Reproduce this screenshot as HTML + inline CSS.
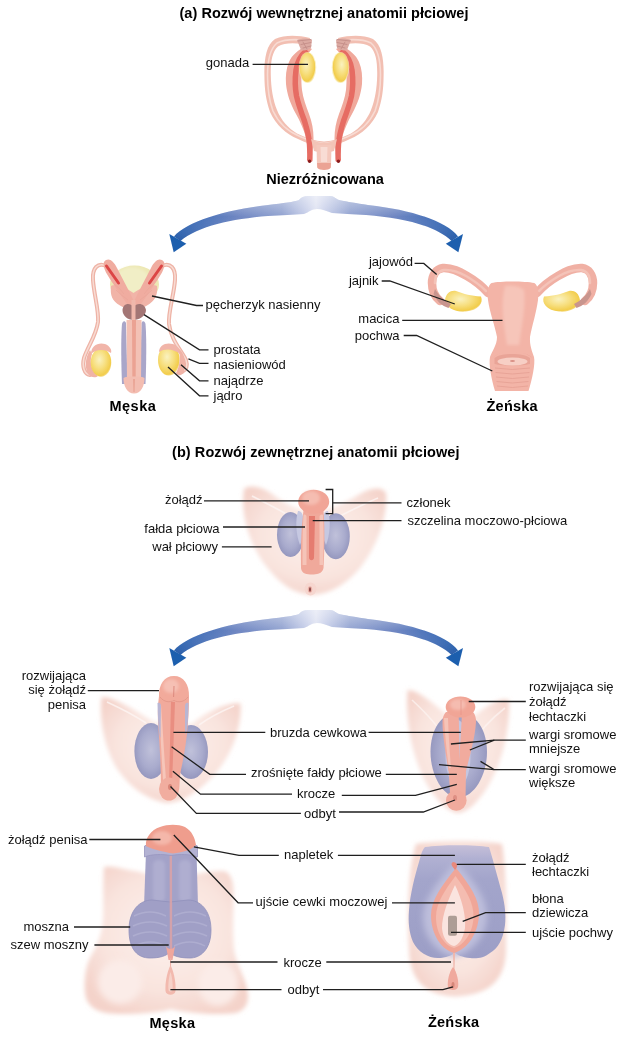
<!DOCTYPE html>
<html><head><meta charset="utf-8">
<style>
html,body{margin:0;padding:0;background:#fff;}
svg{display:block;}
text{font-family:"Liberation Sans",sans-serif;font-size:13px;fill:#111;}
.b{font-weight:bold;font-size:14.5px;fill:#000;}
.ln{stroke:#1f1f1f;stroke-width:1.3;fill:none;}
</style></head><body>
<svg width="627" height="1039" viewBox="0 0 627 1039">
<defs>
<filter id="soft" x="-20%" y="-20%" width="140%" height="140%"><feGaussianBlur stdDeviation="0.6"/></filter>
<filter id="soft2" x="-20%" y="-20%" width="140%" height="140%"><feGaussianBlur stdDeviation="1.5"/></filter>
<filter id="skinb" x="-20%" y="-20%" width="140%" height="140%"><feGaussianBlur stdDeviation="2.2"/></filter>
<filter id="soft3" x="-30%" y="-30%" width="160%" height="160%"><feGaussianBlur stdDeviation="3"/></filter>
<radialGradient id="gYel" cx="42%" cy="40%" r="62%"><stop offset="0" stop-color="#faf2c0"/><stop offset="0.5" stop-color="#f7df80"/><stop offset="0.9" stop-color="#f2cd4c"/><stop offset="1" stop-color="#f5dc8a"/></radialGradient>
<linearGradient id="gArr" x1="0" y1="0" x2="1" y2="0">
<stop offset="0" stop-color="#2862b0"/><stop offset="0.08" stop-color="#4570b8"/><stop offset="0.22" stop-color="#6e86c2"/><stop offset="0.38" stop-color="#91a2d0"/><stop offset="0.47" stop-color="#c9d0ea"/><stop offset="0.5" stop-color="#dde1f1"/><stop offset="0.53" stop-color="#c9d0ea"/><stop offset="0.62" stop-color="#91a2d0"/><stop offset="0.78" stop-color="#6e86c2"/><stop offset="0.92" stop-color="#4570b8"/><stop offset="1" stop-color="#2862b0"/></linearGradient>
<linearGradient id="gArrV" gradientUnits="userSpaceOnUse" x1="0" y1="196" x2="0" y2="242"><stop offset="0" stop-color="#fff" stop-opacity="0.45"/><stop offset="0.45" stop-color="#fff" stop-opacity="0"/><stop offset="1" stop-color="#103070" stop-opacity="0.15"/></linearGradient>
<radialGradient id="gPur" cx="50%" cy="48%" r="55%"><stop offset="0" stop-color="#c0c1da"/><stop offset="0.6" stop-color="#a9abcd"/><stop offset="1" stop-color="#9294bc"/></radialGradient>
<radialGradient id="gSkin" cx="50%" cy="45%" r="60%"><stop offset="0" stop-color="#fcf1ed"/><stop offset="0.65" stop-color="#f9e4de"/><stop offset="1" stop-color="#f4d3ca"/></radialGradient>
<linearGradient id="gPurV" x1="0" y1="0" x2="0" y2="1"><stop offset="0" stop-color="#c6bfd8"/><stop offset="0.12" stop-color="#b0b0d2"/><stop offset="0.3" stop-color="#a3a5cb"/><stop offset="1" stop-color="#9c9ec6"/></linearGradient>
<filter id="artblur" x="-5%" y="-5%" width="110%" height="110%"><feGaussianBlur stdDeviation="0.45"/></filter>
</defs>
<g id="art" filter="url(#artblur)">
<!-- undifferentiated internal -->
<g id="undiff">
 <g id="undL">
  <path d="M310 38 C298 35 285 34.5 275 39 C266 45 264 60 264.4 75 C264.5 90 266 100 270 112 C276 125 286 134 298 139 C306 143 314 145.5 324 146.5 L324 141.6 C315 141 306 138 297 133.5 C288 128 281 120 277 110 C273 100 271 88 270.8 75 C270.6 62 272 52 278 46.5 C285 42 298 43 309 45 Z" fill="#f2bfb2"/>
  <path d="M307 40.5 C296 39 285 39 277 43 C270 49 267.5 62 267.5 75 C267.5 90 269 100 273 111 C279 124 289 132 300 136.5 C308 140 316 142.5 324 143.5" fill="none" stroke="#f8dbd3" stroke-width="1.6"/>
  <path d="M306 46 C298 50 292 55 289 62 C286 69 285.5 76 286 84 C287 94 290 103 296 114 C300 121 304 130 306 138 C307.5 146 308 154 308 162 L311.5 162 C312 154 313.5 146 313.5 138 C313.5 130 312 122 309 114 C306 106 303 98 302 90 C301 80 301 70 304 62 C306 56 309 52 312 49 Z" fill="#f0a99c"/>
  <path d="M307 50 C301 55 297 62 296 70 C295 78 295 88 296.5 96 C298.5 105 301.5 113 304.5 121 C307 129 309 136 309.5 144 C310 152 310 157 309.7 161" fill="none" stroke="#e66c63" stroke-width="5.5" filter="url(#soft)"/>
  <path d="M297 40 C302 38 308 38 312 40 L311 48 C308 50 304 51 301 50 Z" fill="#dcaaa2"/><g stroke="#c48d88" stroke-width="0.9" fill="none" stroke-linecap="round"><path d="M298 41 L311 39.5"/><path d="M301 44.5 L311 42.5"/><path d="M303 48 L311 46"/><path d="M303 42 L307 49"/></g>
  <circle cx="309.6" cy="161.2" r="1.7" fill="#8a1b1b"/>
  <ellipse cx="307.5" cy="67.5" rx="8.8" ry="15.6" fill="#f8eaa8" opacity="0.7" filter="url(#soft)"/>
  <ellipse cx="307.5" cy="67.5" rx="7.8" ry="14.8" fill="url(#gYel)"/>
 </g>
 <use href="#undL" transform="translate(648 0) scale(-1 1)"/>
 <path d="M311 139 Q324 147 337 139 L334 151 Q324 154 314 151 Z" fill="#f3c4b7"/>
 <path d="M316.5 145 L331.5 145 L331 167 C330 170 318 170 317 167 Z" fill="#f4c8bc"/>
 <path d="M320.5 147 L327.5 147 L327 162 L321 162 Z" fill="#f8dcd4" filter="url(#soft)"/>
 <path d="M317 163 L331 163 L330.5 168 C329 170.5 319 170.5 317.5 168 Z" fill="#eba394"/>
</g>
<!-- male internal -->
<g id="maleInt">
 <ellipse cx="134.5" cy="284.5" rx="24.5" ry="19" fill="#ede8b4"/>
 <ellipse cx="132" cy="280" rx="17" ry="13" fill="#f1eec6" filter="url(#soft2)"/>
 <!-- vas deferens -->
 <path d="M106 266 C98 262 92 268 93 280 C94 295 99 310 98 322 C96 336 88 346 84 358 C82 366 84 374 90 375" fill="none" stroke="#eeb3a6" stroke-width="4" stroke-linecap="round"/>
 <path d="M106 266 C98 262 92 268 93 280 C94 295 99 310 98 322 C96 336 88 346 84 358 C82 366 84 374 90 375" fill="none" stroke="#f8dcd4" stroke-width="1.5" stroke-linecap="round"/>
 <path d="M162 266 C170 262 176 268 175 280 C174 295 168 312 169 324 C171 340 181 350 186 360 C188 366 186 370 182 372" fill="none" stroke="#eeb3a6" stroke-width="4" stroke-linecap="round"/>
 <path d="M162 266 C170 262 176 268 175 280 C174 295 168 312 169 324 C171 340 181 350 186 360 C188 366 186 370 182 372" fill="none" stroke="#f8dcd4" stroke-width="1.5" stroke-linecap="round"/>
 <!-- vesicles -->
 <path d="M111 286 C116 283 126 288 133.5 293 C141 288 151 283 157 286 C158 295 155 301 147 305.5 C141 309 136 310.5 133.5 310.5 C131 310.5 126 309 120 305.5 C112 301 110 295 111 286 Z" fill="#f1b4a8"/>
 <path d="M104 262 C108 257 113 260 117 268 C123 280 130 292 136 306 L131 310 C126 302 119 293 114 285 C108 276 102 268 104 262 Z" fill="#f0aca0"/>
 <path d="M164 262 C160 257 155 260 151 268 C145 280 138 292 132 306 L137 310 C142 302 149 293 154 285 C160 276 166 268 164 262 Z" fill="#f0aca0"/>
 <path d="M106.5 266 L118.5 283" stroke="#dc4545" stroke-width="3" stroke-linecap="round" filter="url(#soft)"/>
 <path d="M161.5 266 L149.5 283" stroke="#dc4545" stroke-width="3" stroke-linecap="round" filter="url(#soft)"/>
 <g stroke="#e9a69a" stroke-width="0.7" fill="none"><path d="M116 290 Q122 296 128 300"/><path d="M152 290 Q146 296 140 300"/><path d="M114 284 Q120 288 124 294"/><path d="M154 284 Q148 288 144 294"/></g>
 <!-- prostate -->
 <path d="M133.5 307 C130 302 123 303 122.5 310 C122.5 316 128 320 133.5 320 C139 320 146 316 146 310 C145 303 137 302 133.5 307 Z" fill="#a37675"/>
 <rect x="131.5" y="300" width="4" height="22" fill="#f0b8ac"/>
 <!-- penis -->
 <path d="M122 384 C121 360 121 335 122 324 C122.5 321 125 320 126 323 L127.5 384 Z" fill="#a9a6c9"/>
 <path d="M145.5 384 C146.5 360 146.5 335 145.5 324 C145 321 142.5 320 141.5 323 L140 384 Z" fill="#a9a6c9"/>
 <path d="M126.5 320 L141.5 320 L141 382 L127 382 Z" fill="#f3c1b5"/>
 <path d="M132 320 L136 320 L135.6 388 L132.4 388 Z" fill="#eba293"/>
 <path d="M123.5 378 C126 376 142 376 144.5 378 C144.5 386 141 393.5 134 393.5 C127 393.5 123.5 386 123.5 378 Z" fill="#f3bdb1"/>
 <path d="M133 379 L135 379 L134.6 392 L133.4 392 Z" fill="#eaa596"/>
 <!-- testes -->
 <path d="M90 350 C86 356 84 366 88 374 C91 378 96 378 98 376 C92 372 89 362 92 354 Z" fill="#f0b3a7"/>
 <ellipse cx="101" cy="362.5" rx="10.3" ry="14.2" fill="url(#gYel)"/>
 <path d="M91 354 C91 346 98 342 105 344 C110 346 112 350 111 353 C105 349 96 349 91 354 Z" fill="#f1b5a9"/>
 <ellipse cx="168.8" cy="360" rx="10.8" ry="15.5" fill="url(#gYel)"/>
 <path d="M159 352 C159 345 166 342 173 344 C178 346 181 350 180 354 C174 349 165 348 159 352 Z" fill="#f1b5a9"/>
 <path d="M178 348 C184 352 187 362 184 372 C182 376 178 376 176 373 C180 366 181 356 178 348 Z" fill="#f0b3a7"/>
</g>
<!-- female internal -->
<g id="femInt">
 <path d="M488 293 C482 286 474 280 467 276 C460 272 452 267.5 443 268 C436 269 432 275 432 283 C432 291 435 297 440 301" fill="none" stroke="#f0b0a4" stroke-width="8.5" stroke-linecap="round"/>
 <path d="M486 291 C480 285 473 280 466 276 C459 272 452 269.5 444 270 C438 271 435 276 435 283" fill="none" stroke="#f4c3b8" stroke-width="2.5" stroke-linecap="round" filter="url(#soft)"/>
 <path d="M537 293 C543 286 551 280 558 276 C565 272 573 267.5 582 268 C589 269 593 275 593 283 C593 291 590 297 585 301" fill="none" stroke="#f0b0a4" stroke-width="8.5" stroke-linecap="round"/>
 <path d="M539 291 C545 285 552 280 559 276 C566 272 573 269.5 581 270 C587 271 590 276 590 283" fill="none" stroke="#f4c3b8" stroke-width="2.5" stroke-linecap="round" filter="url(#soft)"/>
 <path d="M445 300 C446 293 451 290 456 291 C464 294 471 296 481 296.5 C484 303 478 310.5 466 311.5 C455 312.5 446 308 445 300 Z" fill="url(#gYel)"/>
 <path d="M580 300 C579 293 574 290 569 291 C561 294 554 296 544 296.5 C541 303 547 310.5 559 311.5 C570 312.5 579 308 580 300 Z" fill="url(#gYel)"/>
 <path d="M435 289 C439 296 445 301 451 304 L448.5 308 C442 306 436.5 301 433.5 294 Z" fill="#c9958e" filter="url(#soft)"/>
 <path d="M590 289 C586 296 580 301 574 304 L576.5 308 C583 306 588.5 301 591.5 294 Z" fill="#c9958e" filter="url(#soft)"/>
 <path d="M491.5 283 C500 281 525 281 534.3 283 C538 285 539 292 538 300 C536.5 312 532 326 530 337 C529.5 345 532 351 534 357 C535.5 364 532 380 528.5 391 L495 391 C491.5 380 488.5 364 490 357 C492 351 497 345 497 337 C495 326 489.5 312 488 300 C487 292 488 285 491.5 283 Z" fill="#f3b4a7"/>
 <path d="M505 286 C512 285 520 286 524 290 C526 305 522 325 519 345 L507 345 C504 325 500 305 505 286 Z" fill="#f6c5b9" filter="url(#soft2)"/>
 <path d="M493 358 C498 350 526 350 532 358 C530 354 520 352 512 352 C504 352 495 354 493 358 Z" fill="#e49a8d"/>
 <path d="M494.5 358 C500 352.5 524 352.5 530 358 L530 364 C522 366 502 366 494.5 364 Z" fill="#e9a497"/>
 <ellipse cx="512.5" cy="361.5" rx="15" ry="4" fill="#f7cfc5"/>
 <ellipse cx="512.5" cy="361" rx="2.5" ry="1" fill="#d99086"/>
 <g stroke="#e7a295" stroke-width="0.9" fill="none">
  <path d="M495 368 Q512 371 530 368"/><path d="M495.5 372.5 Q512 375.5 529.5 372.5"/><path d="M496 377 Q512 380 529 377"/><path d="M496.5 381.5 Q512 384.5 528.5 381.5"/><path d="M497 386 Q512 389 528 386"/>
 </g>
</g>

<!-- undiff external -->
<g id="undExt">
 <path d="M244 489 C250 484 262 487 272 494 C284 503 296 510 313 512 C332 510 346 502 360 494 C370 488 382 486 386 493 C388 515 378 545 360 568 C345 585 330 594 312 595 C294 594 280 584 266 566 C250 545 240 515 244 489 Z" fill="url(#gSkin)" filter="url(#skinb)"/>
 <path d="M252 496 C264 502 276 508 288 515" fill="none" stroke="#fdf5f3" stroke-width="1.8" opacity="0.8" filter="url(#soft)"/>
 <path d="M378 498 C366 503 354 509 340 516" fill="none" stroke="#fdf5f3" stroke-width="1.8" opacity="0.8" filter="url(#soft)"/>
 <ellipse cx="290.5" cy="534.5" rx="13.5" ry="22.5" fill="url(#gPur)"/>
 <ellipse cx="335.8" cy="536.3" rx="14" ry="23" fill="url(#gPur)"/>
 
 
 <path d="M298 511 C303 510 305 520 304 535 L300 545 C296 535 295 520 298 511 Z" fill="#c6c8e1" filter="url(#soft)"/>
 <path d="M328 511 C323 510 321 520 322 535 L326 545 C330 535 331 520 328 511 Z" fill="#c6c8e1" filter="url(#soft)"/>
 <path d="M303.5 510 C309 508 318 508 323.5 510 C325 530 324.5 550 323.5 568 C322.5 574 316 574.5 312 574.5 C307 574.5 301.5 574 301 568 C300.5 550 301 530 303.5 510 Z" fill="#f0a99b"/>
 <path d="M303.5 515 C305 514 306.5 515 306.5 517 L306.5 565 L302.5 565 C302.5 545 302.5 530 303.5 515 Z" fill="#f5c4b8" filter="url(#soft)"/>
 <path d="M319.5 517 C319.5 515 321.5 514 323 515 C323.8 530 323.8 545 323 565 L319.5 565 Z" fill="#f5c4b8" filter="url(#soft)"/>
 <path d="M309 516 L315 516 L314 558 C313 561 310 561 309 558 Z" fill="#e57b70"/>
 <ellipse cx="313.7" cy="501.8" rx="15.5" ry="12" fill="#f1a597"/>
 <ellipse cx="311" cy="498" rx="9" ry="7" fill="#f5bdb1" filter="url(#soft2)"/>
 <ellipse cx="310.5" cy="589" rx="6" ry="6.5" fill="#f6d6cf" filter="url(#soft)"/>
 <ellipse cx="310" cy="589.5" rx="2.2" ry="3.2" fill="#eab0a6"/>
 <ellipse cx="310" cy="589.5" rx="1" ry="2.3" fill="#8e4a4a"/>
</g>
<!-- male developing external -->
<g id="maleDev">
 <path d="M101.5 697 C112 696 135 710 154 722 L192 724 C205 712 228 702 240.5 703.4 C242 730 230 762 205 784 C190 797 178 803 166 803 C150 800 132 790 118 770 C105 750 99 720 101.5 697 Z" fill="url(#gSkin)" filter="url(#skinb)"/>
 <path d="M107 702 C120 708 134 715 146 723" fill="none" stroke="#fdf5f3" stroke-width="1.8" opacity="0.8" filter="url(#soft)"/>
 <path d="M234 706 C222 711 210 717 199 725" fill="none" stroke="#fdf5f3" stroke-width="1.8" opacity="0.8" filter="url(#soft)"/>
 <ellipse cx="151" cy="751" rx="16.6" ry="28" fill="url(#gPur)"/>
 <ellipse cx="191" cy="752" rx="17" ry="27" fill="url(#gPur)"/>
 
 
 <path d="M159 696 C165 693 182 693 189 696 C189 725 185.5 750 181 770 C179 780 180 786 179 790 L161 790 C161 770 160 750 158.5 730 C157.5 718 157.5 706 159 696 Z" fill="#f1aa9c"/>
 <path d="M161 705 C163 730 164 755 166 780 L163 780 C161.5 755 160 730 159.5 705 Z" fill="#f6c6ba" filter="url(#soft)"/>
 <path d="M157.5 703 C159 702 161 703 161 706 L160.5 738 C159 735 158 725 157.5 703 Z" fill="#b9b6d3"/>
 <path d="M188.5 703 C187 702 185 703 185 706 L185 735 C187 732 188.5 722 188.5 703 Z" fill="#b9b6d3"/>
 <path d="M171 702 L175 702 L172 785 L169 785 Z" fill="#e98e81"/>
 <ellipse cx="169" cy="789" rx="10" ry="11.5" fill="#f1ad9f"/>
 <ellipse cx="170" cy="787" rx="2" ry="3" fill="#d98578"/>
 <path d="M159 697 C158.5 684 164.5 676 174 676 C183.5 676 189.5 684 189 697 C186 703 179 703 174 700.5 C169 703 162 703 159 697 Z" fill="#f2aa9b"/>
 <ellipse cx="171" cy="686" rx="8" ry="7" fill="#f6c0b4" filter="url(#soft2)"/>
 <path d="M174 686 L173.6 697" stroke="#d98579" stroke-width="0.9"/>
 <path d="M160 697 C164 702.5 170 702.5 174 700.5 C178 702.5 184 702.5 188 697" fill="none" stroke="#e3978a" stroke-width="0.9"/>
</g>
<!-- female developing external -->
<g id="femDev">
 <path d="M407.5 690 C418 690 434 704 446 714 L474 716 C486 706 500 697 509 700 C510 725 504 760 488 786 C478 802 468 812 458 813 C448 812 438 802 428 786 C414 762 405 725 407.5 690 Z" fill="url(#gSkin)" filter="url(#skinb)"/>
 <path d="M412 700 C425 712 438 725 446 740" fill="none" stroke="#fdf5f3" stroke-width="1.6" opacity="0.7" filter="url(#soft)"/>
 <path d="M505 708 C492 718 480 730 472 745" fill="none" stroke="#fdf5f3" stroke-width="1.6" opacity="0.7" filter="url(#soft)"/>
 <path d="M458.6 712.5 C476 712.5 487 730 487 752 C487 775 474 797.5 458.6 797.5 C443 797.5 430.5 775 430.5 752 C430.5 730 441 712.5 458.6 712.5 Z" fill="url(#gPur)"/>
 <path d="M458.5 720 C468 725 472 745 470 765 C468 780 462 788 458 788 C454 788 448 780 446 765 C444 745 449 725 458.5 720 Z" fill="#c4c6e1" filter="url(#soft)"/>
 <path d="M446 712 L458.5 712 C459.5 735 459.5 755 459 771 L448.5 771 C446 755 442.5 735 442.5 722 C442.5 717 444 714 446 712 Z" fill="#f1ab9e"/>
 <path d="M444 718 L448 718 C448.5 735 450 755 451 768 L449 768 C447 755 445 735 444 718 Z" fill="#f5c4b8" filter="url(#soft)"/>
 <path d="M462 712 L473 712 C475 714 476 717 476 722 C475 738 470 755 466 771 L458.2 771 C459.5 755 461 735 462 712 Z" fill="#f1ab9e"/>
 <path d="M448.5 768 L466 768 L465.5 800 L450.5 800 Z" fill="#f1ad9f"/>
 <ellipse cx="456.3" cy="800.5" rx="10.3" ry="10.3" fill="#f1ab9d"/>
 <ellipse cx="455" cy="798" rx="2" ry="3" fill="#de8f83"/>
 <ellipse cx="460.5" cy="707" rx="14.8" ry="10.5" fill="#f1a596"/>
 <ellipse cx="458" cy="704.5" rx="8" ry="5.5" fill="#f5bcb0" filter="url(#soft2)"/>
 <path d="M461 700 L461 715" stroke="#e59387" stroke-width="0.7"/>
</g>
<!-- male adult external -->
<g id="maleAd">
 <path d="M104 867 C112 865 122 869 135 871 C140 872 144 873 147 874 L197 874 C205 872 215 871 222 871 C229 871 233 878 233.5 890 C234 905 232 925 234 950 C236 964 246 978 248 994 C249 1004 244 1011 236 1013 C220 1015 190 1014 171 1009 C155 1014 120 1015 106 1013 C95 1011 86 1005 85 993 C84 981 85 966 91 956 C97 946 102 935 103 920 C104 905 102.5 885 104 867 Z" fill="url(#gSkin)" filter="url(#skinb)"/>
 <ellipse cx="120" cy="982" rx="22" ry="22" fill="#fbece8" filter="url(#soft3)"/>
 <ellipse cx="218" cy="984" rx="20" ry="22" fill="#fbece8" filter="url(#soft3)"/>
 <path d="M146 852 L196.5 852 L198 906 L144 906 Z" fill="#a3a2c8"/>
 <rect x="153" y="860" width="12" height="42" rx="5" fill="#afaed0" filter="url(#soft2)"/>
 <rect x="179" y="860" width="12" height="42" rx="5" fill="#afaed0" filter="url(#soft2)"/>
 <path d="M129 930 C129 910 140 900 152 900 L170 902 L188 900 C200 900 211 910 211 930 C211 950 200 958 190 958 C180 958 172 956 170 952 C166 956 160 958 150 958 C138 958 129 950 129 930 Z" fill="#a09fc6" stroke="#9190bb" stroke-width="0.8"/>
 <g stroke="#b4b3d4" stroke-width="1.4" fill="none" opacity="0.7" filter="url(#soft)">
  <path d="M134 916 Q150 908 166 916"/><path d="M133 926 Q150 918 167 926"/><path d="M133 936 Q150 928 167 936"/><path d="M135 946 Q150 938 166 946"/>
  <path d="M174 916 Q190 908 206 916"/><path d="M173 926 Q190 918 207 926"/><path d="M173 936 Q190 928 207 936"/><path d="M174 946 Q190 938 205 946"/>
 </g>
 <path d="M169.6 855 L172 855 L172.2 950 L169.8 950 Z" fill="#dca2a6" opacity="0.85"/>
 <path d="M166 946 C168 950 173 950 175 946 L172.5 960 L168.5 960 Z" fill="#f0a69c"/>
 <path d="M170 958 L171.2 958 L171 967 L170 967 Z" fill="#eeb2a8"/>
 <path d="M170.5 965 C174.5 973 176 984 175.5 991 C175 996 166 996 165.5 991 C165 984 166.5 973 170.5 965 Z" fill="#f2b9ae"/>
 <path d="M170.5 972 C172.5 978 173 986 172.5 990 C172 992 169 992 168.5 990 C168 986 168.5 978 170.5 972 Z" fill="#f6d2c9"/>
 <path d="M144.5 846 C150 842 192 842 197.5 846 L197.5 857 C190 854 180 854 171 855.5 C162 854 152 854 144.5 857 Z" fill="#b3b2d3" stroke="#9896bf" stroke-width="0.8"/>
 <path d="M146 846 C145 838 151 830 160 827 C168 824 178 824 185 827 C192 831 195 838 196 845 C190 851 182 852 173 853.5 C165 852 154 850 146 846 Z" fill="#ef9d8d"/>
 <ellipse cx="162" cy="838" rx="10" ry="7" fill="#f4b7aa" filter="url(#soft2)"/>
</g>
<!-- female adult external -->
<g id="femAd">
 <path d="M416 844 C440 840 480 840 502 844 C506 870 507 910 506 950 C505 975 495 995 455 996.5 C420 995 410 975 409 950 C407 910 408 870 416 844 Z" fill="url(#gSkin)" filter="url(#skinb)"/>
 <path d="M425 847 C440 844.5 475 844.5 489 847 C492 856 497 875 502 893 C505 905 506 915 505 925 C503 940 498 948 490 953 C484 958 476 959 470 958 C462 957 457 955 455 952.4 C452 955 446 958 438 958 C428 958 418 952 413 942 C409 932 408 922 409 910 C410 895 415 875 419 862 C421 855 422 850 425 847 Z" fill="url(#gPurV)"/>
 
 <path d="M456 862 C474 880 488 900 487 917 C486 938 470 954 454 957 C438 954 423 938 423 917 C423 900 438 880 456 862 Z" fill="#bdbedb" filter="url(#soft3)"/>
 <path d="M456 868 C470 885 480 900 479 915 C478 935 466 950 454 953 C442 950 431 935 431 915 C431 900 442 885 456 868 Z" fill="#f0a698"/>
 <path d="M455.5 876 C466 890 474 903 473.5 917 C473 933 464 945 454 948 C444 945 436 933 436 917 C436 903 445 890 455.5 876 Z" fill="#f4bcb0" filter="url(#soft)"/>
 <path d="M455 885 C462 900 466 915 465 928 C463 940 458 945 454 946 C449 945 443 940 442 928 C442 915 448 900 455 885 Z" fill="#fae4df"/>
 <rect x="448" y="915.7" width="9" height="20" rx="2" fill="#ad9d95"/>
 <path d="M453 862 C457 862 459 866 455 870 C452 866 450 864 453 862 Z" fill="#e8897c"/>
 <path d="M453 953 L455 953 L454.5 970 L453.5 970 Z" fill="#f0b7ac"/>
 <path d="M453 967 C457 972 459 982 458 987 C457 991 449 991 448 987 C447 982 449 972 453 967 Z" fill="#f0a99d"/>
 <ellipse cx="453" cy="985" rx="1.5" ry="3" fill="#d68679"/>
</g>
<!-- arrows -->
<g id="arrow1">
 <path d="M174 236.5 C186 222 224 210 268 205 C284 203 294 202 299 200 C302 196 306 196 312 196 L330 196 C334 196 336 199 339 200 C348 202 356 203 368 205 C414 210 447 222 458 236.5 L451.5 241 C436 226 404 218 366 215 C352 214 342 214 332 213 C326 211 322 209 317 209 C312 209 309 212 304 214 C294 215 282 215 268 216 C232 219 198 226 180.5 241 Z" fill="url(#gArr)"/>
 <path d="M174 236.5 C186 222 224 210 268 205 C284 203 294 202 299 200 C302 196 306 196 312 196 L330 196 C334 196 336 199 339 200 C348 202 356 203 368 205 C414 210 447 222 458 236.5 L451.5 241 C436 226 404 218 366 215 C352 214 342 214 332 213 C326 211 322 209 317 209 C312 209 309 212 304 214 C294 215 282 215 268 216 C232 219 198 226 180.5 241 Z" fill="url(#gArrV)"/>
 <path d="M169.3 234 L186.3 243.8 L173.7 252.3 Z" fill="#1f5fae"/>
 <path d="M463 234 L445.8 243.8 L458.4 252.3 Z" fill="#1f5fae"/>
</g>
<use href="#arrow1" transform="translate(0 414)"/>
</g>
<g id="lines">
<path class="ln" d="M252.6 64.3 H308"/>
<path class="ln" d="M152 296 L196.5 305.5 H203"/>
<path class="ln" d="M144 314.6 L199.5 349.8 H208.5"/>
<path class="ln" d="M188.4 358.9 L199.5 363.3 H208.5"/>
<path class="ln" d="M181 364.8 L199.5 380.8 H208.5"/>
<path class="ln" d="M168 367 L199.5 395.8 H208.5"/>
<path class="ln" d="M414.6 263.4 H423.8 L436.7 274.5"/>
<path class="ln" d="M381.7 281 H389.8 L454.8 304"/>
<path class="ln" d="M402.2 320.4 H502.5"/>
<path class="ln" d="M403.7 335.5 H416.6 L492.3 371"/>
<path class="ln" d="M204 500.8 H309"/>
<path class="ln" d="M223 527 H305"/>
<path class="ln" d="M221.9 546.8 H271.6"/>
<path class="ln" d="M325.6 489.5 H332.7 V513.6 H325.6"/>
<path class="ln" d="M332.7 502.9 H401.5"/>
<path class="ln" d="M312.7 520.7 H401.5"/>
<path class="ln" d="M87.8 690.6 H159"/>
<path class="ln" d="M173.4 732.3 H265.3"/>
<path class="ln" d="M368.6 732.3 H460.8"/>
<path class="ln" d="M171.6 746.8 L209.8 774.3 H246"/>
<path class="ln" d="M385.8 774.4 H456.8"/>
<path class="ln" d="M172.9 771.3 L200.5 794.2 H292"/>
<path class="ln" d="M341.8 795.3 H415.5 L456.8 784.3"/>
<path class="ln" d="M170.5 786.5 L196.4 813.4 H300.9"/>
<path class="ln" d="M339 812 H423.3 L454.9 800"/>
<path class="ln" d="M468.7 701.5 H525.8"/>
<path class="ln" d="M450.9 744 L494.3 740.1 H525.8"/>
<path class="ln" d="M469.8 750 L494.3 740.1"/>
<path class="ln" d="M439 764.6 L494.3 769.7 H525.8"/>
<path class="ln" d="M480.5 761.4 L494.3 769.7"/>
<path class="ln" d="M89.3 839.5 H160.4"/>
<path class="ln" d="M193.9 846.8 L239 855.3 H278.8"/>
<path class="ln" d="M337.9 855.3 H454.9"/>
<path class="ln" d="M173.8 835 L238.1 902.8 H253"/>
<path class="ln" d="M392 902.9 H454.9"/>
<path class="ln" d="M74 927 H130.2"/>
<path class="ln" d="M94.4 945 H168.7"/>
<path class="ln" d="M170.4 962 H277.5"/>
<path class="ln" d="M326.3 962 H451"/>
<path class="ln" d="M170.4 989.6 H281.5"/>
<path class="ln" d="M323 989.6 H443 L452.9 986.8"/>
<path class="ln" d="M456.8 864.3 H525.8"/>
<path class="ln" d="M462.7 921.4 L485.6 912.7 H525.8"/>
<path class="ln" d="M451 932.4 H525.8"/>
</g>
<g id="labels">
<text class="b" x="179.5" y="18" textLength="289" lengthAdjust="spacing">(a) Rozwój wewnętrznej anatomii płciowej</text>
<text x="205.8" y="66.5">gonada</text>
<text class="b" x="266.3" y="184.3" textLength="117.5" lengthAdjust="spacing">Niezróżnicowana</text>
<text x="205.5" y="309">pęcherzyk nasienny</text>
<text x="213.5" y="354">prostata</text>
<text x="213.5" y="368.5">nasieniowód</text>
<text x="213.5" y="384.5">najądrze</text>
<text x="213.5" y="400">jądro</text>
<text class="b" x="109.5" y="411" textLength="46.3" lengthAdjust="spacing">Męska</text>
<text x="413" y="265.5" text-anchor="end">jajowód</text>
<text x="378.5" y="284.5" text-anchor="end">jajnik</text>
<text x="399.5" y="322.5" text-anchor="end">macica</text>
<text x="399.5" y="339.5" text-anchor="end">pochwa</text>
<text class="b" x="486.5" y="410.8" textLength="51.2" lengthAdjust="spacing">Żeńska</text>

<text class="b" x="172" y="457" textLength="287.5" lengthAdjust="spacing">(b) Rozwój zewnętrznej anatomii płciowej</text>
<text x="202.5" y="504" text-anchor="end">żołądź</text>
<text x="219.5" y="533" text-anchor="end">fałda płciowa</text>
<text x="218" y="551" text-anchor="end">wał płciowy</text>
<text x="406.5" y="506.5">członek</text>
<text x="407.5" y="524.5">szczelina moczowo-płciowa</text>

<text x="86" y="679.5" text-anchor="end">rozwijająca</text>
<text x="86" y="694" text-anchor="end">się żołądź</text>
<text x="86" y="709" text-anchor="end">penisa</text>
<text x="270" y="736.5">bruzda cewkowa</text>
<text x="251" y="777">zrośnięte fałdy płciowe</text>
<text x="297" y="797.5">krocze</text>
<text x="304" y="817.5">odbyt</text>
<text x="529" y="690.5">rozwijająca się</text>
<text x="529" y="706">żołądź</text>
<text x="529" y="720.5">łechtaczki</text>
<text x="529" y="738.5">wargi sromowe</text>
<text x="529" y="753">mniejsze</text>
<text x="529" y="772.5">wargi sromowe</text>
<text x="529" y="786.5">większe</text>

<text x="8" y="843.5">żołądź penisa</text>
<text x="23.5" y="931">moszna</text>
<text x="10.5" y="949">szew moszny</text>
<text x="284" y="859">napletek</text>
<text x="255.5" y="906" textLength="132" lengthAdjust="spacing">ujście cewki moczowej</text>
<text x="283.5" y="966.5">krocze</text>
<text x="287.5" y="993.5">odbyt</text>
<text x="532" y="861.5">żołądź</text>
<text x="532" y="875.5">łechtaczki</text>
<text x="532" y="903">błona</text>
<text x="532" y="917">dziewicza</text>
<text x="532" y="937">ujście pochwy</text>
<text class="b" x="149.5" y="1027.5" textLength="45.5" lengthAdjust="spacing">Męska</text>
<text class="b" x="428" y="1027" textLength="51" lengthAdjust="spacing">Żeńska</text>
</g>
</svg>
</body></html>
